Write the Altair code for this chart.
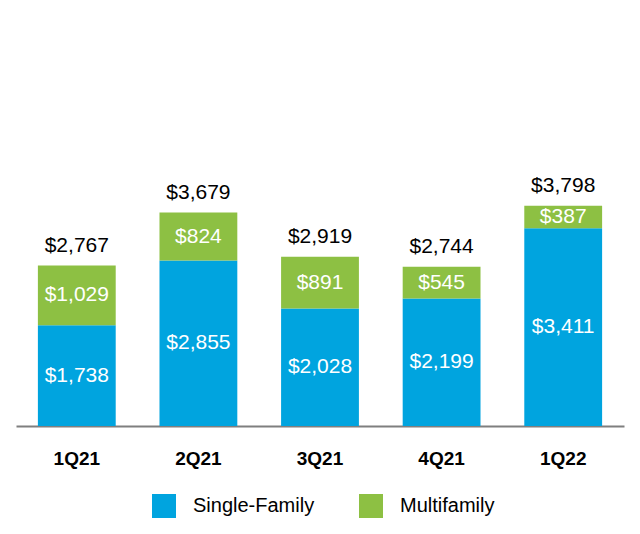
import altair as alt
import pandas as pd

quarters = ["1Q21", "2Q21", "3Q21", "4Q21", "1Q22"]
single_family = [1738, 2855, 2028, 2199, 3411]
multifamily = [1029, 824, 891, 545, 387]
series = ["Single-Family", "Multifamily"]
colors = ["#00A4DF", "#8DC043"]

rows = []
for q, s, m in zip(quarters, single_family, multifamily):
    rows.append({"quarter": q, "series": series[0], "value": s, "order": 0})
    rows.append({"quarter": q, "series": series[1], "value": m, "order": 1})
df = pd.DataFrame(rows)

FONT = "Liberation Sans, Arial, sans-serif"

base = alt.Chart(df).transform_stack(
    stack="value", groupby=["quarter"], as_=["y0", "y1"],
    sort=[alt.SortField("order", order="ascending")]
).transform_calculate(mid="(datum.y0 + datum.y1) / 2")

x_enc = alt.X("quarter:N", sort=quarters, title=None,
              scale=alt.Scale(paddingInner=0.36, paddingOuter=0.18),
              axis=alt.Axis(labelAngle=0, ticks=False, domainColor="#7f7f7f",
                            domainWidth=2, labelFont=FONT, labelFontSize=19,
                            labelFontWeight="bold", labelColor="#000000",
                            labelPadding=23))
y_scale = alt.Scale(domain=[0, 7000])

bars = base.mark_bar().encode(
    x=x_enc,
    y=alt.Y("y0:Q", scale=y_scale, axis=None),
    y2="y1:Q",
    color=alt.Color("series:N", scale=alt.Scale(domain=series, range=colors),
                    sort=series,
                    legend=alt.Legend(title=None, orient="none", legendX=136, legendY=474,
                                      direction="horizontal", symbolType="square",
                                      symbolSize=576, symbolStrokeWidth=0,
                                      labelFont=FONT, labelFontSize=20,
                                      labelColor="#000000", labelOffset=17,
                                      columnPadding=44, labelLimit=300)),
)

inner = base.mark_text(font=FONT, fontSize=21, color="white", baseline="middle").encode(
    x=alt.X("quarter:N", sort=quarters),
    y=alt.Y("mid:Q", scale=y_scale),
    text=alt.Text("value:Q", format="$,.0f"),
)

totals_df = pd.DataFrame({"quarter": quarters,
                          "total": [s + m for s, m in zip(single_family, multifamily)]})
totals = alt.Chart(totals_df).mark_text(font=FONT, fontSize=21, color="black",
                                        baseline="alphabetic", dy=-14).encode(
    x=alt.X("quarter:N", sort=quarters),
    y=alt.Y("total:Q", scale=y_scale),
    text=alt.Text("total:Q", format="$,.0f"),
)

chart = alt.layer(bars, inner, totals).properties(
    width=608, height=406,
    autosize=alt.AutoSizeParams(type="none"),
    padding={"left": 8, "top": 12, "right": 8, "bottom": 100},
).configure_view(stroke=None)

chart.save("out.html", embed_options={"renderer": "svg", "actions": False})
